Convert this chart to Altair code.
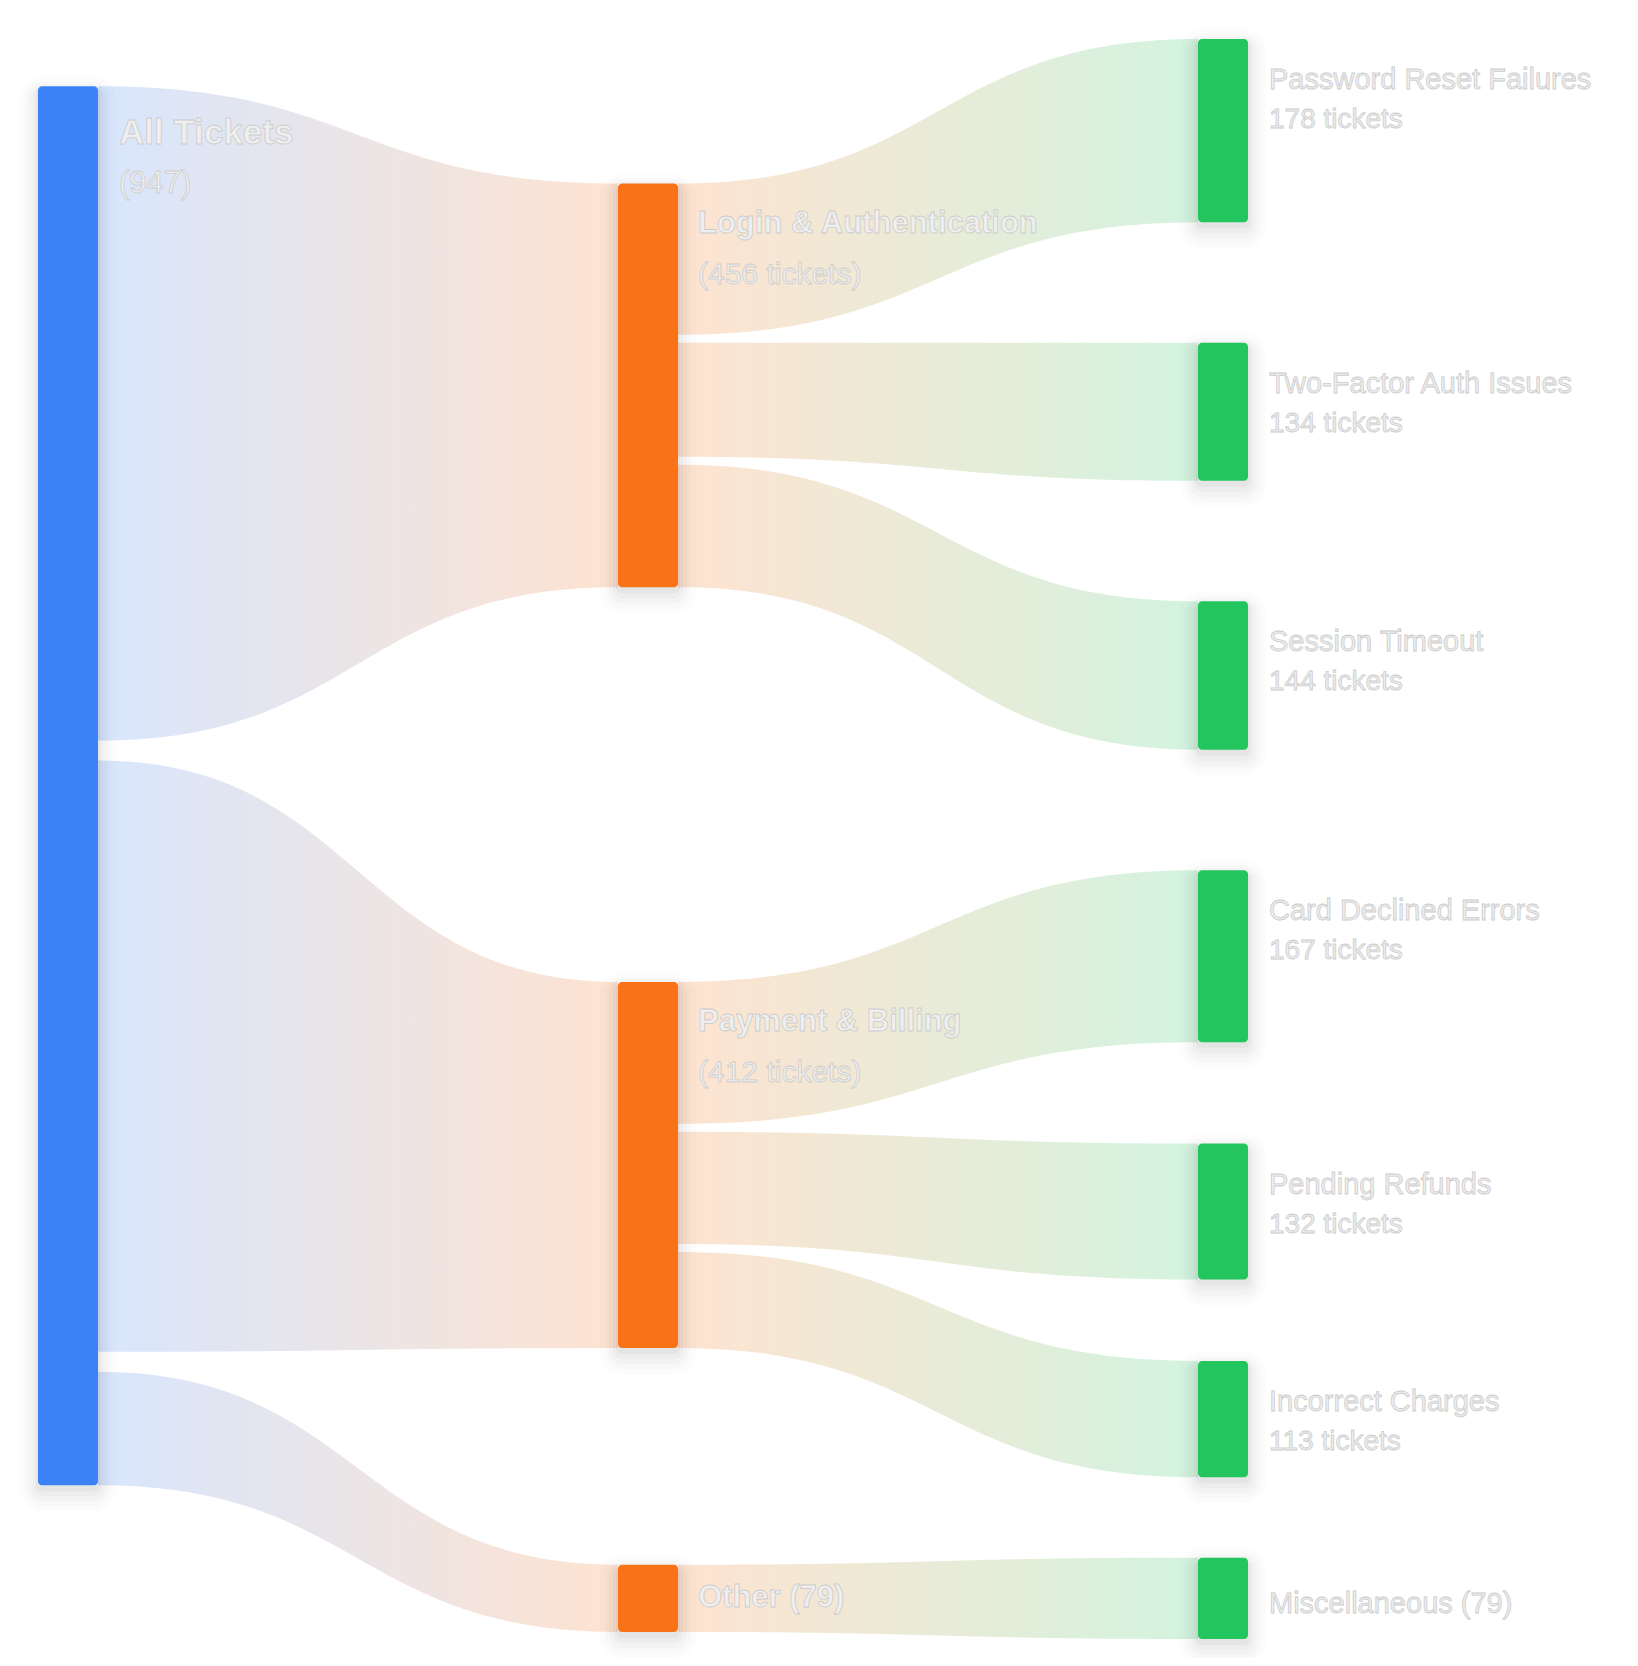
import altair as alt
import pandas as pd
import numpy as np

# ---------------- data ----------------
ROOT_NAME = "All Tickets"
ROOT_SUB = "(947)"
ROOT_VALUE = 947

CATEGORIES = ["Login & Authentication", "Payment & Billing", "Other"]
CATEGORY_VALUES = [456, 412, 79]
CATEGORY_LABELS = ["Login & Authentication", "Payment & Billing", "Other (79)"]
CATEGORY_SUBS = ["(456 tickets)", "(412 tickets)", ""]

ISSUES = ["Password Reset Failures", "Two-Factor Auth Issues", "Session Timeout",
          "Card Declined Errors", "Pending Refunds", "Incorrect Charges", "Miscellaneous"]
ISSUE_VALUES = [178, 134, 144, 167, 132, 113, 79]
ISSUE_PARENT = [0, 0, 0, 1, 1, 1, 2]
ISSUE_LABELS = ["Password Reset Failures", "Two-Factor Auth Issues", "Session Timeout",
                "Card Declined Errors", "Pending Refunds", "Incorrect Charges", "Miscellaneous (79)"]
ISSUE_SUBS = ["178 tickets", "134 tickets", "144 tickets", "167 tickets",
              "132 tickets", "113 tickets", ""]

BLUE, ORANGE, GREEN = "#3b82f6", "#f97316", "#22c55e"

# ---------------- layout ----------------
W, H = 1620, 1650
COL_X = [30, 610, 1190]
NODE_W = [60, 60, 50]
TOP, BOTTOM = 31, 1631
K = [1.435, 0.85, 1.03]       # px per ticket in each column
SRC_GAP = [20, 8]             # gap between outgoing bands
GAP_WEIGHTS = [120, 120, 120, 101, 81, 80]   # relative spacing of leaf nodes
ROOT_LIFT = 40

# column 3
n3 = len(ISSUES)
free = BOTTOM - TOP - sum(ISSUE_VALUES) * K[2]
gaps3 = [free * g / sum(GAP_WEIGHTS) for g in GAP_WEIGHTS]
leaf_top, y = [], TOP
for j, v in enumerate(ISSUE_VALUES):
    leaf_top.append(y)
    y += v * K[2] + (gaps3[j] if j < len(gaps3) else 0)
leaf_h = [v * K[2] for v in ISSUE_VALUES]
leaf_c = [t + h / 2 for t, h in zip(leaf_top, leaf_h)]

# column 2
cat_top, cat_h, cat_c = [], [], []
for i, v in enumerate(CATEGORY_VALUES):
    kids = [j for j, p in enumerate(ISSUE_PARENT) if p == i]
    h = v * K[1] + SRC_GAP[1] * (len(kids) - 1)
    c = sum(leaf_c[j] * ISSUE_VALUES[j] for j in kids) / sum(ISSUE_VALUES[j] for j in kids)
    cat_top.append(c - h / 2); cat_h.append(h); cat_c.append(c)

# column 1
root_h = ROOT_VALUE * K[0] + SRC_GAP[0] * (len(CATEGORIES) - 1)
root_c = sum(c * v for c, v in zip(cat_c, CATEGORY_VALUES)) / ROOT_VALUE
root_top = root_c - root_h / 2 - ROOT_LIFT

nodes = [dict(col=0, x=COL_X[0], x2=COL_X[0] + NODE_W[0], y=root_top, y2=root_top + root_h)]
for i in range(len(CATEGORIES)):
    nodes.append(dict(col=1, x=COL_X[1], x2=COL_X[1] + NODE_W[1], y=cat_top[i], y2=cat_top[i] + cat_h[i]))
for j in range(n3):
    nodes.append(dict(col=2, x=COL_X[2], x2=COL_X[2] + NODE_W[2], y=leaf_top[j], y2=leaf_top[j] + leaf_h[j]))
nodes = pd.DataFrame(nodes)


def band(name, stage, x0, x1, s0, s1, t0, t1, n=60):
    rows = []
    xm = (x0 + x1) / 2
    for t in np.linspace(0, 1, n):
        a, b, c, d = (1 - t) ** 3, 3 * (1 - t) ** 2 * t, 3 * (1 - t) * t ** 2, t ** 3
        x = a * x0 + b * xm + c * xm + d * x1
        yt = (a + b) * s0 + (c + d) * t0
        yb = (a + b) * s1 + (c + d) * t1
        rows.append(dict(link=name, stage=stage, x=x, y0=yt, y1=yb))
    return rows


links = []
y = root_top
for i, v in enumerate(CATEGORY_VALUES):
    h = v * K[0]
    links += band("a%d" % i, 1, COL_X[0] + NODE_W[0], COL_X[1], y, y + h,
                  cat_top[i], cat_top[i] + cat_h[i])
    y += h + SRC_GAP[0]
for i in range(len(CATEGORIES)):
    y = cat_top[i]
    for j, p in enumerate(ISSUE_PARENT):
        if p != i:
            continue
        h = ISSUE_VALUES[j] * K[1]
        links += band("b%d" % j, 2, COL_X[1] + NODE_W[1], COL_X[2], y, y + h,
                      leaf_top[j], leaf_top[j] + leaf_h[j])
        y += h + SRC_GAP[1]
links = pd.DataFrame(links)

# labels
bold_rows, reg_rows = [], []
bold_rows.append(dict(x=COL_X[0] + NODE_W[0] + 21, y=root_top + 47, t=ROOT_NAME, s=35))
reg_rows.append(dict(x=COL_X[0] + NODE_W[0] + 21, y=root_top + 98, t=ROOT_SUB, s=31))
for i in range(len(CATEGORIES)):
    lx = COL_X[1] + NODE_W[1] + 20
    if CATEGORY_SUBS[i]:
        bold_rows.append(dict(x=lx, y=cat_top[i] + 40, t=CATEGORY_LABELS[i], s=31))
        reg_rows.append(dict(x=lx, y=cat_top[i] + 91, t=CATEGORY_SUBS[i], s=30))
    else:
        bold_rows.append(dict(x=lx, y=cat_top[i] + cat_h[i] / 2, t=CATEGORY_LABELS[i], s=31))
for j in range(n3):
    lx = COL_X[2] + NODE_W[2] + 21
    if ISSUE_SUBS[j]:
        reg_rows.append(dict(x=lx, y=leaf_top[j] + 41, t=ISSUE_LABELS[j], s=29))
        reg_rows.append(dict(x=lx, y=leaf_top[j] + 81, t=ISSUE_SUBS[j], s=28))
    else:
        reg_rows.append(dict(x=lx, y=leaf_top[j] + leaf_h[j] / 2 + 6, t=ISSUE_LABELS[j], s=29))
bold_df = pd.DataFrame(bold_rows)
reg_df = pd.DataFrame(reg_rows)

# ---------------- chart ----------------
xs = alt.Scale(domain=[0, W], nice=False, zero=False)
ys = alt.Scale(domain=[0, H], nice=False, zero=False, reverse=True)


def grad(c0, c1):
    return alt.Gradient(gradient="linear", x1=0, x2=1, y1=0, y2=0,
                        stops=[alt.GradientStop(color=c0, offset=0),
                               alt.GradientStop(color=c1, offset=1)])


def link_layer(stage, c0, c1):
    return alt.Chart(links[links.stage == stage]).mark_area(
        color=grad(c0, c1), opacity=0.2, interpolate="linear"
    ).encode(
        x=alt.X("x:Q", scale=xs, axis=None),
        y=alt.Y("y0:Q", scale=ys, axis=None),
        y2="y1:Q",
        detail="link:N",
    )


layers = [link_layer(1, BLUE, ORANGE), link_layer(2, ORANGE, GREEN)]

shadow_base = alt.Chart(nodes)
for s, dy, op in [(18, 8, 0.012), (13, 8, 0.016), (9, 7, 0.02), (5, 6, 0.025), (2, 4, 0.03)]:
    layers.append(
        shadow_base.transform_calculate(
            sx="datum.x - %d" % s, sx2="datum.x2 + %d" % s,
            sy="datum.y + %d" % (dy - s), sy2="datum.y2 + %d" % (dy + s)
        ).mark_rect(color="#000000", opacity=op, cornerRadius=4 + s).encode(
            x=alt.X("sx:Q", scale=xs, axis=None), x2="sx2:Q",
            y=alt.Y("sy:Q", scale=ys, axis=None), y2="sy2:Q",
        )
    )

layers.append(
    alt.Chart(nodes).mark_rect(cornerRadius=4).encode(
        x=alt.X("x:Q", scale=xs, axis=None), x2="x2:Q",
        y=alt.Y("y:Q", scale=ys, axis=None), y2="y2:Q",
        color=alt.Color("col:N", scale=alt.Scale(domain=[0, 1, 2], range=[BLUE, ORANGE, GREEN]), legend=None),
    )
)

for df, weight in [(bold_df, "bold"), (reg_df, "normal")]:
    layers.append(
        alt.Chart(df).mark_text(
            align="left", baseline="middle", font="Liberation Sans", fontWeight=weight,
            fill="#efefef", stroke="#cccccc", strokeWidth=0.8,
        ).encode(
            x=alt.X("x:Q", scale=xs, axis=None),
            y=alt.Y("y:Q", scale=ys, axis=None),
            text="t:N",
            size=alt.Size("s:Q", scale=None),
        )
    )

chart = alt.layer(*layers).properties(
    width=W, height=H, padding=0, autosize=alt.AutoSizeParams(type="none"),
    background="white",
).configure_view(stroke=None)

chart.save("out.html", embed_options={"renderer": "svg", "actions": False})
